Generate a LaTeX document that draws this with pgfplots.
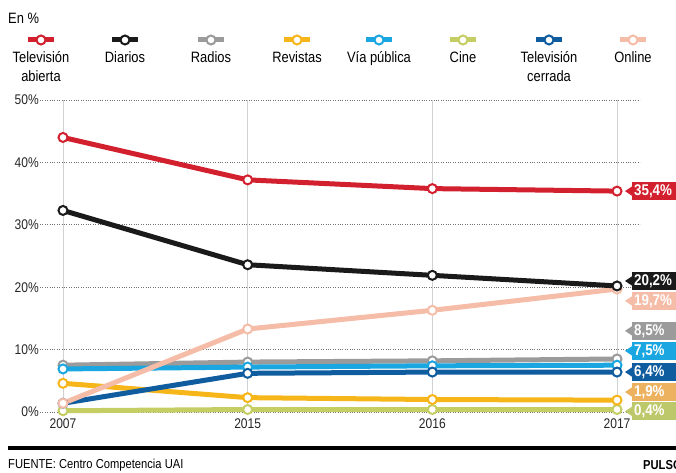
\documentclass[border=0pt]{standalone}
\usepackage{fontspec}
\setmainfont{Liberation Sans}[FakeStretch=0.86]
\newfontfamily\boldf{Liberation Sans}[FakeStretch=0.86,UprightFont=* Bold]
\usepackage{pgfplots}
\pgfplotsset{compat=1.18}
\definecolor{cTVA}{HTML}{D3202F}
\definecolor{cDia}{HTML}{1A1A1A}
\definecolor{cRad}{HTML}{9B9B9B}
\definecolor{cRev}{HTML}{F6B519}
\definecolor{cVia}{HTML}{1AA7E1}
\definecolor{cCin}{HTML}{C5CE62}
\definecolor{cTVC}{HTML}{0F5C9E}
\definecolor{cOnl}{HTML}{F5BCA8}
\definecolor{cRevBox}{HTML}{EDB25F}
\definecolor{cCinBox}{HTML}{BDC86A}
\newcommand{\vtag}[3]{%
  \fill[#2] ([xshift=15.5pt,yshift=5pt]axis cs:3,#1) -- ([xshift=8pt]axis cs:3,#1) -- ([xshift=15.5pt,yshift=-5pt]axis cs:3,#1) -- cycle;
  \node[fill=#2, text=white, anchor=west, minimum height=18pt, text width=50pt, inner xsep=2pt, inner ysep=0pt, align=left, font=\fontsize{15.5}{17}\boldf] at ([xshift=15pt]axis cs:3,#1) {#3};
}
\newcommand{\legitem}[3]{%
  \draw[#2, line width=5pt] (#1-13pt,432pt) -- (#1+13pt,432pt);
  \draw[#2, line width=2pt, fill=white] (#1,432pt) circle (4.5pt);
  \node[anchor=north, align=center, font=\fontsize{15}{19}\selectfont, inner sep=0pt] at (#1,421pt) {#3};
}
\begin{document}
\begin{tikzpicture}
\clip (0,0) rectangle (676pt,472pt);
\node[anchor=west, font=\fontsize{15}{17}\selectfont, inner sep=0pt] at (8pt,454pt) {En \%};
\legitem{41pt}{cTVA}{Televisión\\abierta}
\legitem{125pt}{cDia}{Diarios}
\legitem{211pt}{cRad}{Radios}
\legitem{297pt}{cRev}{Revistas}
\legitem{379pt}{cVia}{Vía pública}
\legitem{463pt}{cCin}{Cine}
\legitem{549pt}{cTVC}{Televisión\\cerrada}
\legitem{633pt}{cOnl}{Online}
\begin{axis}[
  scale only axis, width=600pt, height=312pt,
  at={(40pt,60pt)}, anchor=south west,
  xmin=-0.1245, xmax=3.1245, ymin=0, ymax=50,
  xtick={0,1,2,3}, xticklabels={2007,2015,2016,2017},
  ytick={0,10,20,30,40,50},
  yticklabel={\pgfmathprintnumber{\tick}\%},
  /pgf/number format/assume math mode=true,
  axis line style={draw=none}, major tick length=0pt,
  xmajorgrids, ymajorgrids,
  x grid style={black!18, line width=0.7pt},
  y grid style={black!55, dotted, line width=0.7pt},
  tick label style={font=\fontsize{14}{16}\selectfont, text=black!85},
  yticklabel style={inner sep=1pt},
  xticklabel style={yshift=-3pt},
  clip=false,
  every axis plot/.append style={line width=5pt, mark=*, mark size=4.5pt},
]
\addplot[cCin, mark options={fill=white, draw=cCin, line width=2pt}] coordinates {(0,0.2) (1,0.4) (2,0.4) (3,0.4)};
\addplot[cRev, mark options={fill=white, draw=cRev, line width=2pt}] coordinates {(0,4.6) (1,2.3) (2,2.0) (3,1.9)};
\addplot[cRad, mark options={fill=white, draw=cRad, line width=2pt}] coordinates {(0,7.5) (1,8.0) (2,8.2) (3,8.5)};
\addplot[cVia, mark options={fill=white, draw=cVia, line width=2pt}] coordinates {(0,6.9) (1,7.2) (2,7.4) (3,7.5)};
\addplot[cTVC, mark options={fill=white, draw=cTVC, line width=2pt}] coordinates {(0,1.4) (1,6.2) (2,6.4) (3,6.4)};
\addplot[cOnl, mark options={fill=white, draw=cOnl, line width=2pt}] coordinates {(0,1.4) (1,13.3) (2,16.3) (3,19.7)};
\addplot[cDia, mark options={fill=white, draw=cDia, line width=2pt}] coordinates {(0,32.3) (1,23.6) (2,21.9) (3,20.2)};
\addplot[cTVA, mark options={fill=white, draw=cTVA, line width=2pt}] coordinates {(0,44.0) (1,37.2) (2,35.8) (3,35.4)};
\vtag{35.4}{cTVA}{35,4\%}
\vtag{21.0}{cDia}{20,2\%}
\vtag{17.8}{cOnl}{19,7\%}
\vtag{13.0}{cRad}{8,5\%}
\vtag{9.8}{cVia}{7,5\%}
\vtag{6.4}{cTVC}{6,4\%}
\vtag{3.2}{cRevBox}{1,9\%}
\vtag{0.1}{cCinBox}{0,4\%}
\end{axis}
\draw[black, line width=4.5pt] (8pt,24pt) -- (680pt,24pt);
\node[anchor=west, font=\fontsize{13}{15}\selectfont, inner sep=0pt] at (8pt,7pt) {FUENTE: Centro Competencia UAI};
\node[anchor=west, font=\fontsize{13}{15}\boldf, inner sep=0pt] at (643pt,7pt) {PULSO};
\end{tikzpicture}
\end{document}
